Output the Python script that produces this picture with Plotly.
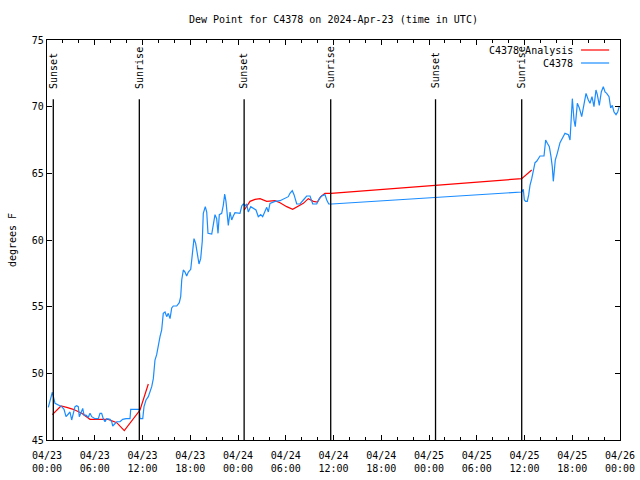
import plotly.graph_objects as go
import pandas as pd

start = pd.Timestamp("2024-04-23 00:00")

# C4378 observations: hours since 04/23 00:00 UTC, dew point (F)
obs_hours = [0.16, 0.67, 1.01, 1.42, 1.85, 2.14, 2.39, 2.68, 2.89, 3.10, 3.30, 3.52, 3.73, 3.93,
             4.06, 4.27, 4.49, 4.65, 4.90, 5.19, 5.40, 5.62, 6.03, 6.45, 6.66, 6.87, 7.07, 7.29,
             7.50, 7.92, 8.13, 8.26, 8.54, 8.76, 9.17, 9.51, 9.93, 10.43, 10.52, 11.60, 11.69,
             12.03, 12.19, 12.44, 12.73, 13.16, 13.36, 13.57, 13.78, 13.99, 14.20, 14.41, 14.61,
             14.83, 15.04, 15.24, 15.46, 15.67, 15.87, 16.30, 16.62, 16.80, 16.93, 17.13, 17.34,
             17.55, 17.76, 18.06, 18.22, 18.47, 18.68, 18.89, 19.10, 19.31, 19.51, 19.64, 19.89,
             20.07, 20.23, 20.70, 20.90, 21.11, 21.32, 21.49, 21.65, 21.95, 22.15, 22.33, 22.49,
             22.66, 22.78, 23.00, 23.21, 23.41, 23.62, 24.25, 24.47, 24.67, 24.88, 25.09, 25.29,
             25.60, 25.92, 26.26, 26.55, 26.85, 27.10, 27.39, 27.61, 27.81, 28.02, 28.65, 29.28,
             30.32, 30.53, 30.82, 31.04, 31.38, 31.79, 32.21, 32.63, 33.05, 33.39, 33.89, 34.22,
             34.52, 34.93, 35.15, 35.40, 35.77, 59.65, 59.85, 59.98, 60.15, 60.35, 60.53, 60.69,
             60.91, 61.11, 61.32, 61.53, 61.95, 62.45, 62.66, 62.87, 63.12, 63.33, 63.49, 63.62,
             63.75, 63.87, 64.12, 64.30, 64.46, 65.09, 65.51, 65.72, 65.84, 66.01, 66.22, 66.38,
             66.64, 66.89, 67.19, 67.48, 67.73, 68.02, 68.23, 68.48, 68.73, 68.98, 69.15, 69.40,
             69.65, 69.90, 70.12, 70.33, 70.62, 70.83, 71.03, 71.25, 71.50, 71.71, 71.91]
obs_dewpt = [47.45, 48.58, 47.75, 47.63, 47.5, 47.3, 46.75, 46.95, 47.1, 46.5, 47.1, 47.5, 47.57,
             47.5, 46.75, 47.0, 47.37, 46.87, 46.87, 46.7, 47.0, 46.75, 46.6, 46.6, 47.0, 47.0,
             46.6, 46.37, 46.6, 46.55, 46.37, 46.05, 46.25, 46.37, 46.37, 46.55, 46.6, 46.6, 47.3,
             47.3, 46.6, 46.6, 47.5, 48.0, 48.25, 49.0, 49.6, 51.0, 51.4, 52.25, 52.75, 53.25,
             54.5, 54.6, 54.25, 54.5, 54.1, 54.9, 55.05, 55.05, 55.3, 55.75, 57.0, 57.75, 57.6,
             57.3, 57.6, 57.8, 58.6, 60.1, 59.75, 58.75, 58.2, 58.6, 59.9, 62.0, 62.5, 62.1, 60.5,
             60.45, 61.1, 61.9, 61.6, 60.5, 61.9, 62.0, 62.6, 63.45, 62.9, 61.75, 61.1, 62.1, 61.5,
             61.8, 62.05, 62.0, 62.55, 62.7, 62.55, 62.7, 62.1, 62.5, 62.4, 62.25, 61.75, 61.9,
             61.75, 62.1, 62.45, 62.1, 62.75, 62.9, 62.95, 63.25, 63.5, 63.7, 63.4, 62.7, 62.7,
             63.0, 63.3, 63.3, 62.7, 62.7, 63.1, 63.3, 63.4, 63.0, 62.7, 62.7, 63.6, 63.8, 63.0,
             62.9, 62.9, 63.4, 64.1, 64.6, 65.25, 65.8, 65.9, 66.3, 66.3, 67.5, 67.25, 67.0,
             66.25, 65.5, 64.4, 65.25, 66.0, 66.5, 67.0, 67.3, 68.0, 67.9, 67.5, 69.25, 70.6,
             69.0, 68.5, 70.25, 69.9, 69.25, 70.1, 71.0, 70.5, 70.25, 70.75, 70.0, 71.25, 70.9,
             70.1, 71.1, 71.5, 71.1, 71.0, 70.75, 69.9, 70.1, 69.6, 69.4, 69.6, 70.0]

# C4378 Analysis
ana_hours = [0.67, 1.76, 2.48, 3.30, 4.36, 5.40, 7.70, 8.76, 9.71, 11.69, 12.73, None,
             24.79, 25.51, 26.14, 26.77, 27.61, 28.65, 29.28, 30.12, 30.87, 31.58, 32.21,
             32.83, 33.46, 33.97, 34.39, 34.93, 35.69, 59.65, 60.91]
ana_dewpt = [46.9, 47.55, 47.45, 47.3, 47.0, 46.55, 46.55, 46.3, 45.7, 47.25, 49.2, None,
             62.25, 62.9, 63.05, 63.1, 62.9, 62.95, 62.8, 62.5, 62.3, 62.55, 62.75,
             63.1, 62.9, 62.85, 63.25, 63.5, 63.5, 64.6, 65.25]

# Sun events (hours since 04/23 00:00 UTC)
sun_hours = [0.79, 11.60, 24.77, 35.65, 48.82, 59.65]
sun_labels = ["Sunset", "Sunrise", "Sunset", "Sunrise", "Sunset", "Sunrise"]

tick_hours = list(range(0, 73, 6))
tick_text = ["04/23<br>00:00", "04/23<br>06:00", "04/23<br>12:00", "04/23<br>18:00",
             "04/24<br>00:00", "04/24<br>06:00", "04/24<br>12:00", "04/24<br>18:00",
             "04/25<br>00:00", "04/25<br>06:00", "04/25<br>12:00", "04/25<br>18:00",
             "04/26<br>00:00"]


def to_time(hours):
    return [None if h is None else start + pd.Timedelta(hours=h) for h in hours]


FONT = "DejaVu Sans Mono"
RED = "#ff0000"
BLUE = "#1a8cff"

fig = go.Figure()
fig.add_trace(go.Scatter(x=to_time(ana_hours), y=ana_dewpt, mode="lines", name="C4378 Analysis",
                         line=dict(color=RED, width=1.2), connectgaps=False))
fig.add_trace(go.Scatter(x=to_time(obs_hours), y=obs_dewpt, mode="lines", name="C4378",
                         line=dict(color=BLUE, width=1.2)))

for h, lab in zip(sun_hours, sun_labels):
    t = start + pd.Timedelta(hours=h)
    fig.add_shape(type="line", xref="x", yref="y", x0=t, x1=t, y0=45, y1=70.55,
                  line=dict(color="black", width=1.3))
    fig.add_annotation(x=t, y=71.2, xref="x", yref="y", text=lab, textangle=-90,
                       showarrow=False, xanchor="center", yanchor="bottom",
                       font=dict(family=FONT, size=10, color="black"))

# gnuplot-style legend (text left of sample)
for i, (name, col) in enumerate([("C4378 Analysis", RED), ("C4378", BLUE)]):
    yp = 0.975 - i * 0.0325
    fig.add_annotation(x=0.9215, y=yp, xref="paper", yref="paper", text=name, showarrow=False,
                       xanchor="right", yanchor="middle",
                       font=dict(family=FONT, size=10, color="black"))
    fig.add_shape(type="line", xref="paper", yref="paper", x0=0.932, x1=0.981, y0=yp, y1=yp,
                  line=dict(color=col, width=1.2))

fig.add_annotation(x=-0.061, y=0.5, xref="paper", yref="paper", text="degrees F",
                   textangle=-90, showarrow=False, xanchor="center", yanchor="middle",
                   font=dict(family=FONT, size=10, color="black"))

fig.update_layout(
    width=640, height=480,
    margin=dict(l=47, r=20, t=40, b=40, autoexpand=False),
    paper_bgcolor="white", plot_bgcolor="white",
    showlegend=False,
    title=dict(text="Dew Point for C4378 on 2024-Apr-23 (time in UTC)", x=0.521, xanchor="center",
               y=0.96, yanchor="middle", yref="container",
               font=dict(family=FONT, size=10, color="black")),
    font=dict(family=FONT, size=10, color="black"),
)
fig.update_xaxes(
    type="date",
    range=[start, start + pd.Timedelta(hours=72)],
    tickvals=to_time(tick_hours), ticktext=tick_text,
    ticks="inside", ticklen=5, tickcolor="black", tickwidth=1,
    showline=True, linecolor="black", linewidth=1.3, mirror="ticks",
    showgrid=False, zeroline=False, ticklabelstandoff=6,
    minor=dict(dtick=2 * 3600 * 1000, tick0=start, ticks="inside", ticklen=3,
               tickcolor="black", showgrid=False),
    tickfont=dict(family=FONT, size=10, color="black"),
)
fig.update_yaxes(
    range=[45, 75], dtick=5, tick0=45,
    ticks="inside", ticklen=5, tickcolor="black", tickwidth=1,
    showline=True, linecolor="black", linewidth=1.3, mirror="ticks",
    showgrid=False, zeroline=False,
    tickfont=dict(family=FONT, size=10, color="black"),
)

fig.write_html("out.html", config={"displayModeBar": False},
               post_script="document.body.style.margin='0';document.body.style.overflow='hidden';")
